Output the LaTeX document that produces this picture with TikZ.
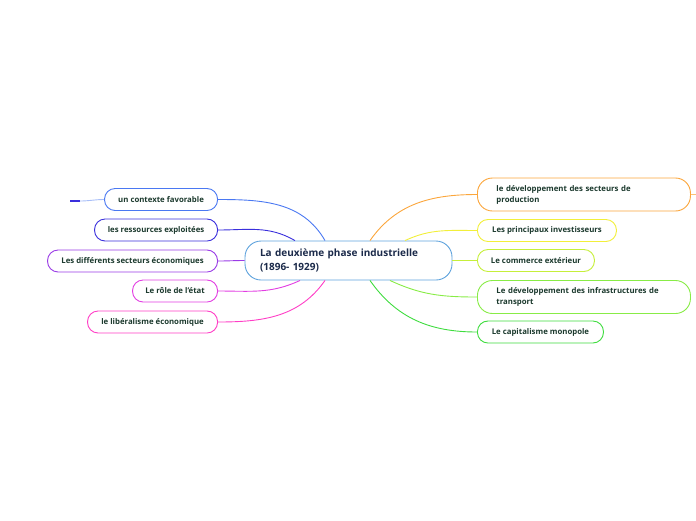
\documentclass[tikz,border=0pt]{standalone}
\usepackage{fontspec}
\setmainfont{Open Sans}
\begin{document}
\begin{tikzpicture}[x=1pt,y=-1pt,
  box/.style={draw, line width=0.9pt, rounded corners=10.5pt, minimum height=22pt, inner sep=0pt, fill=white, text=txt, font=\fontsize{7.8}{11}\selectfont\bfseries},
  bigbox/.style={box, rounded corners=15pt, minimum height=33pt, align=left, text width=175pt, inner xsep=19pt},
  conn/.style={line width=0.9pt}]
\definecolor{txt}{HTML}{1C3A2E}
\definecolor{ctxt}{HTML}{1B2A4A}
\definecolor{cb}{HTML}{5FA3DD}
\definecolor{c1}{HTML}{4A78F2}
\definecolor{c2}{HTML}{3A2FDC}
\definecolor{c3}{HTML}{9A3BE6}
\definecolor{c4}{HTML}{E23DE2}
\definecolor{c5}{HTML}{FF3EC6}
\definecolor{r1}{HTML}{FBA63C}
\definecolor{r2}{HTML}{F2EF3A}
\definecolor{r3}{HTML}{C6EF3A}
\definecolor{r4}{HTML}{88EC46}
\definecolor{r5}{HTML}{3EDC3E}
\definecolor{stub}{HTML}{A8BEF8}
\useasboundingbox (0,0) rectangle (696,520);
% central
\node[draw=cb, line width=0.9pt, rounded corners=16pt, minimum width=207pt, minimum height=39pt, fill=white, text=ctxt, align=left, text width=177pt, inner xsep=15pt, font=\fontsize{10}{14}\selectfont\bfseries] (c) at (348.5,260.5) {La deuxième phase industrielle\\(1896- 1929)};
% left
\node[box, draw=c1, minimum width=113pt, anchor=east] (l1) at (218,199.5) {un contexte favorable};
\node[box, draw=c2, minimum width=123pt, anchor=east] (l2) at (218,230) {les ressources exploitées};
\node[box, draw=c3, minimum width=170pt, anchor=east] (l3) at (218,261) {Les différents secteurs économiques};
\node[box, draw=c4, minimum width=85pt, anchor=east] (l4) at (218,291) {Le rôle de l'état};
\node[box, draw=c5, minimum width=130pt, anchor=east] (l5) at (218,322) {le libéralisme économique};
% right
\node[bigbox, draw=r1, minimum width=213pt, anchor=west] (r1n) at (477,194.5) {le développement des secteurs de\\production};
\node[box, draw=r2, minimum width=139pt, anchor=west] (r2n) at (477,230.5) {Les principaux investisseurs};
\node[box, draw=r3, minimum width=117pt, anchor=west] (r3n) at (477,260.5) {Le commerce extérieur};
\node[bigbox, draw=r4, minimum width=213pt, anchor=west] (r4n) at (477,297) {Le développement des infrastructures de\\transport};
\node[box, draw=r5, minimum width=126pt, anchor=west] (r5n) at (477,332) {Le capitalisme monopole};
% stubs
\coordinate (s1) at (80,201);
\coordinate (s2) at (70,201);
\coordinate (s3) at (696,194.5);
\draw[stub, line width=0.9pt] (l1.west) to[out=180, in=0] (s1);
\draw[c2, line width=1.2pt] (s1) -- (s2);
\draw[r1!70, line width=0.9pt] (r1n.east) -- (s3);
% connectors
\draw[conn, c1] ([xshift=-23.5pt]c.north) to[out=120, in=0] (l1.east);
\draw[conn, c2] ([xshift=-53.5pt]c.north) to[out=150, in=0] (l2.east);
\draw[conn, c3] (c.west) to[out=180, in=0] (l3.east);
\draw[conn, c4] ([xshift=-48.5pt]c.south) to[out=205, in=0] (l4.east);
\draw[conn, c5] ([xshift=-23.5pt]c.south) to[out=235, in=0] (l5.east);
\draw[conn, r1] ([xshift=21.5pt]c.north) to[out=55, in=180] (r1n.west);
\draw[conn, r2] ([xshift=56.5pt]c.north) to[out=25, in=180] (r2n.west);
\draw[conn, r3] (c.east) to[out=0, in=180] (r3n.west);
\draw[conn, r4] ([xshift=41.5pt]c.south) to[out=-25, in=180] (r4n.west);
\draw[conn, r5] ([xshift=21.5pt]c.south) to[out=-55, in=180] (r5n.west);
\end{tikzpicture}
\end{document}
